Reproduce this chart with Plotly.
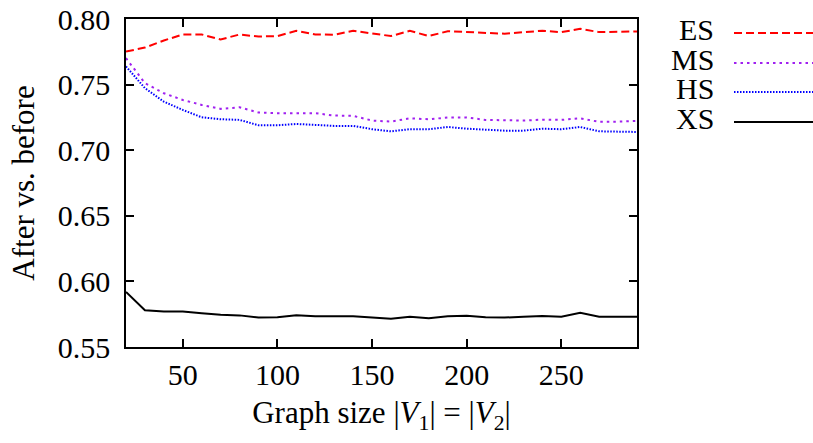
import plotly.graph_objects as go

sizes = list(range(20, 300, 10))

es = [0.7752, 0.7782, 0.7836, 0.7882, 0.7882, 0.7844, 0.7882, 0.7866, 0.7870, 0.7910,
      0.7882, 0.7880, 0.7910, 0.7888, 0.7870, 0.7910, 0.7870, 0.7907, 0.7900, 0.7890,
      0.7888, 0.7900, 0.7910, 0.7900, 0.7925, 0.7900, 0.7900, 0.7905]
ms = [0.7702, 0.7511, 0.7434, 0.7383, 0.7345, 0.7315, 0.7327, 0.7287, 0.7282, 0.7282,
      0.7282, 0.7264, 0.7262, 0.7226, 0.7218, 0.7243, 0.7236, 0.7249, 0.7249, 0.7231,
      0.7226, 0.7226, 0.7233, 0.7231, 0.7243, 0.7216, 0.7218, 0.7223]
hs = [0.7638, 0.7473, 0.7370, 0.7307, 0.7251, 0.7236, 0.7231, 0.7190, 0.7190, 0.7200,
      0.7193, 0.7185, 0.7185, 0.7160, 0.7144, 0.7160, 0.7160, 0.7177, 0.7164, 0.7154,
      0.7149, 0.7149, 0.7164, 0.7160, 0.7177, 0.7144, 0.7139, 0.7139]
xs = [0.5920, 0.5780, 0.5770, 0.5770, 0.5757, 0.5745, 0.5741, 0.5724, 0.5726, 0.5742,
      0.5734, 0.5736, 0.5734, 0.5724, 0.5716, 0.5730, 0.5719, 0.5734, 0.5739, 0.5726,
      0.5724, 0.5731, 0.5736, 0.5731, 0.5760, 0.5730, 0.5731, 0.5730]

series_names = ["ES", "MS", "HS", "XS"]
x_ticks = [50, 100, 150, 200, 250]
y_ticks = [0.55, 0.60, 0.65, 0.70, 0.75, 0.80]
y_tick_text = ["0.55", "0.60", "0.65", "0.70", "0.75", "0.80"]

FONT = "Liberation Serif"
FS = 30
FT = 31
W, H = 813, 443
L, R, T, B = 126, 637, 19, 347

styles = [
    dict(color="#ff0000", width=2, dash="8px,4px"),
    dict(color="#a020f0", width=2, dash="2.5px,4px"),
    dict(color="#0000ff", width=2, dash="1.5px,1.5px"),
    dict(color="#000000", width=2, dash="solid"),
]

fig = go.Figure()
for name, vals, st in zip(series_names, [es, ms, hs, xs], styles):
    fig.add_trace(go.Scatter(x=sizes, y=vals, mode="lines", name=name,
                             line=dict(shape="linear", **st), showlegend=False))

# gnuplot-style legend at right (text left of sample)
leg_y = [33, 63, 92, 122]
for name, st, py in zip(series_names, styles, leg_y):
    yp = (B - py) / (B - T)
    fig.add_annotation(x=(716 - L) / (R - L), y=yp, xref="paper", yref="paper",
                       text=name, showarrow=False, xanchor="right", yanchor="middle",
                       height=28, valign="middle", yshift=4,
                       font=dict(family=FONT, size=FS, color="black"))
    fig.add_shape(type="line", xref="paper", yref="paper",
                  x0=(734 - L) / (R - L), x1=(815 - L) / (R - L), y0=yp, y1=yp,
                  line=st)

axis_common = dict(showline=True, linecolor="black", linewidth=1.5, mirror="allticks",
                   ticks="inside", ticklen=8, tickwidth=1.5, tickcolor="black",
                   showgrid=False, zeroline=False, automargin=False,
                   ticklabeloverflow="allow",
                   tickfont=dict(family=FONT, size=FS, color="black"))

fig.update_xaxes(range=[20, 290], tickvals=x_ticks, ticklabelstandoff=0,
                 title=dict(text="Graph size |<i>V</i><sub>1</sub>| = |<i>V</i><sub>2</sub>|",
                            font=dict(family=FONT, size=FT, color="black"), standoff=12),
                 **axis_common)
fig.update_yaxes(range=[0.55, 0.80], tickvals=y_ticks, ticktext=y_tick_text,
                 ticklabelstandoff=8,
                 title=dict(text="After vs. before",
                            font=dict(family=FONT, size=FT, color="black"), standoff=14),
                 **axis_common)

fig.update_layout(width=W, height=H, margin=dict(l=L, r=W - R, t=T, b=H - B),
                  paper_bgcolor="white", plot_bgcolor="white",
                  font=dict(family=FONT, color="black"))

fig.write_html("out.html", config={"displayModeBar": False},
               post_script="document.body.style.margin='0px';document.body.style.overflow='hidden';")
